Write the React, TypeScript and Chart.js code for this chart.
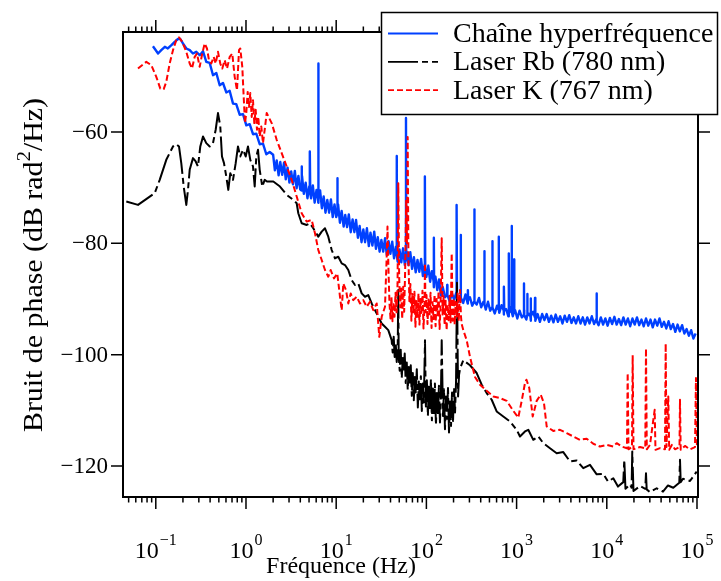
import React, { useEffect, useRef } from "react";
import { Chart, registerables } from "chart.js";

Chart.register(...registerables);

// ---------- data (frequency in Hz, phase noise in dB rad^2/Hz) ----------
const blueLow: number[][] = [
  [0.093, -44.6], [0.106, -45.9], [0.115, -45.3], [0.126, -44.7], [0.136, -45.0], [0.149, -44.4],
  [0.162, -43.8], [0.176, -43.3], [0.187, -43.3], [0.2, -44.1], [0.218, -45.0], [0.238, -45.3],
  [0.258, -45.9], [0.281, -45.6], [0.307, -46.2], [0.334, -45.5], [0.363, -47.4], [0.396, -47.6],
  [0.431, -49.8], [0.469, -49.4], [0.511, -51.6], [0.556, -51.2], [0.605, -52.9], [0.659, -52.6],
  [0.718, -54.9], [0.78, -55.0], [0.851, -56.9], [0.927, -56.8], [1.008, -58.8], [1.099, -58.6],
  [1.196, -60.4], [1.3, -60.3], [1.419, -62.2], [1.543, -62.1], [1.679, -64.0], [1.831, -63.6],
];

const blueMid: number[][] = [
  [2.0, -64.1], [2.09, -66.9], [2.19, -65.1], [2.3, -67.8], [2.4, -65.4], [2.52, -67.7],
  [2.64, -65.5], [2.76, -68.5], [2.89, -66.4], [3.03, -69.1], [3.17, -67.1], [3.32, -69.4],
  [3.48, -67.0], [3.64, -70.1], [3.81, -67.9], [3.99, -70.3], [4.18, -67.9], [4.38, -71.1],
  [4.59, -69.1], [4.8, -71.9], [5.03, -69.8], [5.27, -71.9], [5.51, -69.6], [5.77, -72.7],
  [6.05, -70.4], [6.33, -72.7], [6.63, -70.5], [6.94, -73.7], [7.27, -71.6], [7.61, -74.5],
  [7.97, -72.2], [8.35, -74.5], [8.74, -72.1], [9.15, -75.3], [9.58, -73.0], [10.0, -75.3],
  [10.5, -73.0], [11.0, -76.3], [11.5, -74.2], [12.1, -77.0], [12.6, -74.9], [13.2, -77.1],
  [13.8, -74.8], [14.5, -78.0], [15.2, -75.7], [15.9, -78.0], [16.6, -75.8], [17.4, -79.0],
  [18.2, -76.9], [19.1, -79.8], [20.0, -77.5], [20.9, -79.8], [21.9, -77.3], [23.0, -80.5],
  [24.0, -78.1], [25.2, -80.4], [26.4, -77.9], [27.6, -81.0], [28.9, -78.9], [30.3, -81.5],
  [31.7, -79.4], [33.2, -81.5], [34.8, -79.1], [36.4, -82.1], [38.1, -79.6], [39.9, -81.9],
  [41.8, -79.7], [43.8, -82.7], [45.9, -80.6], [48.0, -83.3], [50.3, -81.1], [52.7, -83.4],
  [55.1, -80.9], [57.7, -83.9], [60.5, -81.5], [63.3, -83.9], [66.3, -81.6], [69.4, -84.6],
  [72.7, -82.5], [76.1, -85.2], [79.7, -83.0], [83.5, -85.1], [87.4, -82.8], [91.5, -85.9],
  [95.8, -83.7], [100, -86.0], [105, -84.0], [110, -86.9], [115, -85.0], [121, -87.9],
  [126, -86.0], [132, -88.4], [138, -86.5], [145, -89.4], [152, -87.9],
];

const blueHigh: number[][] = [
  [161, -89.7], [171, -88.8], [181, -90.4], [192, -89.0], [203, -90.1], [215, -88.8],
  [228, -90.5], [241, -89.4], [256, -90.7], [271, -89.2], [287, -90.8], [304, -89.7],
  [322, -91.2], [341, -89.8], [361, -91.0], [383, -89.8], [405, -91.5], [429, -90.5],
  [455, -91.9], [482, -90.5], [510, -92.1], [541, -91.1], [573, -92.6], [607, -91.2],
  [643, -92.5], [681, -91.1], [721, -92.8], [764, -91.8], [809, -93.1], [857, -91.5],
  [908, -93.1], [962, -92.0], [1019, -93.5], [1079, -92.1], [1143, -93.3], [1211, -92.0],
  [1283, -93.7], [1359, -92.6], [1440, -93.9], [1525, -92.3], [1616, -93.9], [1711, -92.7],
  [1813, -94.1], [1920, -92.7], [2034, -93.8], [2155, -92.7], [2283, -94.1], [2418, -93.0],
  [2561, -94.2], [2713, -92.8], [2874, -94.1], [3045, -93.1], [3225, -94.4], [3417, -93.0],
  [3619, -94.1], [3834, -92.9], [4061, -94.3], [4302, -93.3], [4557, -94.4], [4828, -93.1],
  [5114, -94.4], [5417, -93.3], [5739, -94.6], [6079, -93.3], [6440, -94.4], [6822, -93.1],
  [7226, -94.5], [7655, -93.6], [8109, -94.7], [8590, -93.3], [9099, -94.6], [9639, -93.5],
  [10210, -94.8], [10820, -93.4], [11460, -94.5], [12140, -93.2], [12860, -94.6], [13620, -93.6],
  [14430, -94.7], [15280, -93.3], [16190, -94.6], [17150, -93.5], [18170, -94.9], [19240, -93.5],
  [20390, -94.6], [21600, -93.3], [22880, -94.7], [24230, -93.7], [25670, -94.9], [27190, -93.5],
  [28810, -94.8], [30510, -93.7], [32320, -95.1], [34240, -93.7], [36270, -94.8], [38420, -93.5],
  [40700, -95.0], [43120, -94.1], [45670, -95.3], [48380, -94.0], [51250, -95.4], [54290, -94.5],
  [57510, -95.9], [60920, -94.6], [64540, -95.8], [68360, -94.7], [72420, -96.2], [76710, -95.4],
  [81260, -96.6], [86080, -95.6], [91190, -97.1], [96600, -96.2],
];

const blueSpikes: number[][] = [
  [4.11, -70.5], [4.14, -66.2], [4.17, -70.5],
  [5.08, -71.0], [5.12, -63.5], [5.16, -71.0],
  [6.28, -72.0], [6.33, -47.7], [6.38, -72.0],
  [10.22, -74.8], [10.3, -68.3], [10.38, -74.8],
  [46.5, -82.0], [46.8, -64.3], [47.1, -82.0],
  [59.0, -82.8], [59.4, -57.5], [59.8, -82.8],
  [95.9, -85.0], [96.5, -68.0], [97.1, -85.0],
  [120.2, -86.8], [121, -79.0], [121.8, -86.8],
  [168.8, -89.3], [170, -87.5], [171.2, -89.3],
  [215.5, -89.7], [217, -73.1], [218.5, -89.7],
  [238.3, -89.8], [240, -78.5], [241.7, -89.8],
  [287.5, -90.2], [289, -88.4], [290.5, -90.2],
  [337.6, -90.5], [340, -73.9], [342.4, -90.5],
  [436, -91.0], [439, -81.4], [442, -91.0],
  [534, -91.5], [538, -79.6], [542, -91.5],
  [628.6, -91.9], [633, -78.8], [637.4, -91.9],
  [720, -92.1], [725, -87.8], [730, -92.1],
  [817, -92.3], [823, -81.8], [829, -92.3],
  [876, -92.4], [882, -76.9], [888, -92.4],
  [929, -92.5], [936, -82.9], [943, -92.5],
  [1200, -92.9], [1208, -87.2], [1216, -92.9],
  [1305, -93.0], [1314, -89.1], [1323, -93.0],
  [1423, -93.1], [1433, -89.9], [1443, -93.1],
  [1589, -93.2], [1600, -89.8], [1611, -93.2],
  [7675, -94.0], [7730, -89.0], [7785, -94.0],
];

const rbPoints: number[][] = [
  [0.0471, -72.5], [0.0635, -73.1], [0.0972, -71.0], [0.1105, -68.6], [0.1307, -65.0], [0.1551, -62.6],
  [0.1688, -62.2], [0.1808, -62.6], [0.1917, -65.6], [0.2039, -69.8], [0.2179, -73.1], [0.2275, -70.4],
  [0.2376, -66.8], [0.2585, -64.7], [0.277, -65.3], [0.2937, -66.2], [0.3114, -62.6], [0.3337, -60.8],
  [0.3629, -62.0], [0.396, -62.6], [0.4307, -62.0], [0.4613, -59.6], [0.4893, -56.6], [0.5188, -59.0],
  [0.5419, -64.4], [0.5703, -65.6], [0.6046, -68.0], [0.6366, -70.4], [0.6699, -67.4], [0.7176, -68.6],
  [0.7689, -65.6], [0.8151, -62.6], [0.8646, -64.4], [0.9264, -63.2], [0.9924, -64.4], [1.052, -62.6],
  [1.116, -65.0], [1.196, -66.2], [1.249, -69.8], [1.301, -64.4], [1.359, -63.2], [1.419, -66.8],
  [1.516, -69.8], [1.612, -68.6], [1.709, -68.9], [2.008, -68.9], [2.382, -69.8], [2.827, -71.3],
  [3.345, -72.2], [3.648, -72.8], [3.801, -74.6], [4.145, -76.4], [4.708, -76.7], [5.123, -76.4],
  [5.573, -77.3], [6.333, -78.8], [6.907, -77.9], [7.513, -77.3], [8.173, -78.8], [8.915, -81.2],
  [9.698, -82.7], [10.55, -82.4], [11.51, -83.6], [12.52, -83.9], [13.62, -84.8], [14.85, -86.6],
  [16.16, -87.5], [17.58, -87.2], [19.17, -89.0], [20.86, -89.6], [22.69, -89.3], [24.75, -90.8],
  [26.92, -92.0], [29.29, -93.2], [31.94, -94.4], [34.75, -95.0], [37.81, -95.6], [41.2, -97.4],
  [42.3, -99.6], [43.4, -96.8], [44.5, -100.4], [45.7, -98.0], [46.9, -101.3], [48.1, -98.6],
  [48.8, -88.4], [49.3, -100.2], [50.6, -102.9], [51.9, -99.1], [53.3, -104.2], [54.7, -100.6],
  [56.1, -103.0], [57.5, -99.8], [59.0, -105.1], [60.6, -101.4], [62.1, -106.3], [63.8, -102.2],
  [65.4, -105.0], [67.1, -101.9], [68.9, -107.4], [70.7, -103.3], [72.5, -108.2], [74.4, -104.0],
  [76.3, -106.8], [78.3, -102.6], [80.4, -109.5], [82.4, -104.8], [84.6, -108.0], [86.8, -103.9],
  [89.0, -110.1], [91.3, -105.2], [93.7, -108.6], [96.5, -97.4], [98.7, -109.3], [101.2, -104.6],
  [103.9, -111.0], [106.6, -105.3], [109.3, -109.6], [112.2, -104.4], [115.1, -111.8], [118.1, -106.1],
  [121.2, -110.5], [124.3, -105.2], [127.6, -112.6], [130.9, -106.9], [134.3, -110.9], [137.8, -105.6],
  [141.4, -112.2], [145.0, -107.0], [147.8, -97.4], [152.7, -111.0], [156.7, -106.2], [160.7, -113.4],
  [164.9, -107.5], [169.2, -111.5], [173.6, -106.0], [178.1, -114.0], [182.8, -108.4], [187.5, -112.8],
  [192.4, -106.8], [197.4, -111.9], [202.6, -105.9], [207.8, -110.4], [213.2, -104.8], [218.4, -87.1],
  [224.5, -107.5], [230.3, -103.6], [236.3, -102.5], [256.5, -101.0], [304.3, -101.9], [361.1, -103.3],
  [410.2, -105.4], [466.0, -106.9], [529.6, -108.1], [601.6, -110.2], [712.0, -111.1], [845.1, -112.0],
  [1002, -113.5], [1090, -114.7], [1239, -113.8], [1348, -113.5], [1531, -115.3], [1740, -114.7],
  [1977, -115.9], [2346, -116.8], [2782, -117.7], [3293, -117.5], [3908, -119.2], [4637, -119.0],
  [5488, -120.4], [6510, -119.8], [7725, -121.5], [9143, -121.4], [10310, -122.8], [11800, -122.2],
  [13300, -123.7], [15230, -122.9], [15630, -118.9], [16110, -124.1], [18080, -123.3], [18840, -123.9],
  [19160, -117.4], [19770, -124.5], [23330, -123.6], [26710, -124.1], [27200, -121.3], [27680, -124.2],
  [30120, -124.7], [35730, -124.0], [41970, -124.6], [47690, -123.5], [54600, -123.9], [63650, -123.0],
  [64790, -118.9], [65960, -122.9], [69930, -122.3], [83600, -122.7], [99200, -121.0],
];

const kPoints: number[][] = [
  [0.0635, -48.6], [0.0785, -47.4], [0.0892, -48.0], [0.1013, -50.1], [0.1122, -52.2], [0.1224, -52.3],
  [0.1307, -51.0], [0.1426, -47.7], [0.1551, -45.3], [0.1688, -43.5], [0.1808, -43.0], [0.1966, -43.8],
  [0.2179, -45.6], [0.2376, -47.7], [0.252, -48.6], [0.27, -46.5], [0.2862, -45.9], [0.3066, -48.3],
  [0.3277, -45.9], [0.3483, -44.1], [0.3694, -45.0], [0.3888, -47.1], [0.4124, -47.7], [0.4384, -46.5],
  [0.4613, -47.7], [0.4893, -45.6], [0.5188, -47.7], [0.546, -48.6], [0.5805, -47.1], [0.616, -48.6],
  [0.66, -46.5], [0.7047, -45.9], [0.7492, -50.1], [0.795, -52.5], [0.8365, -45.3], [0.8646, -45.0],
  [0.9099, -48.3], [0.943, -53.7], [0.9748, -58.4], [1.0077, -56.6], [1.0443, -52.8], [1.0797, -55.5],
  [1.116, -53.0], [1.157, -57.3], [1.196, -54.3], [1.236, -58.4], [1.281, -56.0], [1.324, -59.6],
  [1.369, -57.3], [1.419, -60.8], [1.477, -59.0], [1.543, -62.0], [1.612, -59.6], [1.696, -56.6],
  [1.927, -58.4], [2.189, -61.4], [2.488, -63.8], [2.827, -66.2], [3.212, -68.6], [3.648, -71.6],
  [4.145, -74.6], [4.708, -76.1], [5.35, -75.8], [5.82, -78.2], [6.333, -81.2], [6.907, -83.0],
  [7.513, -84.8], [8.173, -86.0], [8.69, -84.8], [9.454, -86.3], [10.28, -85.4], [11.02, -89.6],
  [11.51, -92.0], [11.99, -87.2], [12.84, -88.4], [13.62, -90.8], [14.48, -89.0], [15.47, -90.2],
  [16.87, -89.6], [18.36, -90.8], [19.97, -90.2], [21.78, -91.4], [23.7, -90.5], [25.78, -92.0],
  [28.12, -90.8], [30.05, -96.8], [31.94, -93.2], [34.75, -91.4], [36.29, -82.4], [37.04, -77.0],
  [38.0, -84.8], [38.98, -90.8], [40.0, -93.5], [41.0, -89.7], [42.1, -94.0], [43.2, -90.6],
  [44.3, -93.2], [45.5, -88.9], [46.7, -92.4], [47.9, -87.2], [48.8, -69.2], [49.9, -86.0],
  [51.2, -91.5], [52.5, -88.1], [53.9, -93.6], [55.3, -87.8], [56.7, -92.3], [58.2, -84.5],
  [59.7, -72.2], [60.9, -80.0], [62.03, -60.9], [63.2, -82.5], [64.8, -90.4], [66.5, -87.3],
  [68.2, -93.9], [70.0, -89.1], [71.8, -92.6], [73.7, -88.7], [75.6, -95.0], [77.6, -90.2],
  [79.6, -93.4], [81.7, -89.0], [83.8, -94.6], [86.0, -90.0], [88.2, -92.8], [90.5, -88.5],
  [92.9, -95.3], [95.3, -91.0], [96.48, -83.6], [97.8, -92.4], [100.3, -89.3], [102.9, -94.5],
  [105.6, -90.1], [108.4, -93.0], [111.2, -88.9], [114.1, -95.2], [117.0, -90.6], [120.1, -93.6],
  [123.2, -89.2], [126.4, -94.9], [129.7, -90.0], [133.1, -92.9], [136.5, -88.6], [140.1, -95.4],
  [143.7, -91.2], [147.8, -79.1], [151.3, -92.8], [155.2, -89.5], [159.3, -94.7], [163.4, -90.3],
  [167.6, -95.6], [172.0, -91.0], [176.5, -93.8], [181.1, -89.4], [185.8, -94.2], [190.8, -81.8],
  [195.6, -93.9], [200.7, -89.9], [205.9, -94.6], [211.3, -90.5], [216.8, -93.3], [222.4, -89.0],
  [228.2, -94.0], [235.8, -88.4], [242.0, -93.2], [246.3, -94.5], [256.5, -95.6], [279.7, -97.4],
  [304.3, -100.4], [345.7, -104.0], [392.8, -105.4], [466.0, -106.5], [551.5, -107.5], [654.6, -107.8],
  [776.7, -108.3], [919.0, -110.1], [1044, -111.3], [1139, -108.3], [1239, -105.1], [1287, -104.5],
  [1382, -106.0], [1508, -111.1], [1670, -108.3], [1850, -107.2], [2012, -108.7], [2156, -112.9],
  [2551, -113.7], [3027, -113.5], [3592, -114.1], [4251, -114.7], [5043, -115.3], [5984, -115.1],
  [7084, -116.0], [8403, -116.5], [9970, -116.2], [11800, -116.5], [12870, -115.9], [14620, -116.5],
  [16740, -116.8], [17040, -103.3], [17390, -117.0], [19020, -116.6], [19360, -100.1], [19770, -117.0],
  [23330, -116.6], [26710, -116.8], [27200, -98.9], [27760, -117.0], [30120, -116.2], [33950, -109.9],
  [34650, -117.1], [38880, -116.8], [44170, -117.0], [44970, -98.0], [45890, -116.6], [48050, -107.5],
  [49170, -117.1], [52810, -116.2], [57020, -117.0], [63950, -116.6], [64790, -108.1], [65960, -117.1],
  [73600, -116.4], [83600, -117.0], [95000, -116.6], [97430, -104.2], [99960, -116.8],
];

const seriesNames = ["Chaîne hyperfréquence", "Laser Rb (780 nm)", "Laser K (767 nm)"];
const yTickValues = [-60, -80, -100, -120];
const xDecadeExponents = [-1, 0, 1, 2, 3, 4, 5];
const xTitle = "Fréquence (Hz)";
const yTitleParts = ["Bruit de phase (dB rad", "2", "/Hz)"];

const X_MIN = 0.0433;
const X_MAX = 1.026e5;
const Y_MIN = -125.57;
const Y_MAX = -42.04;

const BLUE = "#0040ff";
const RED = "#ff0000";
const BLACK = "#000000";
const RB_DASH = [30, 4, 6, 4];
const K_DASH = [6, 3];
const SERIF = '"Liberation Serif", "Times New Roman", serif';

const toXY = (arr: number[][]) => arr.map(([x, y]) => ({ x, y }));

const framePlugin = {
  id: "frameAndLegend",
  afterDraw(chart: any) {
    const { ctx, chartArea: a, scales } = chart;
    const xs = scales.x;
    const ys = scales.y;
    ctx.save();
    ctx.setLineDash([]);
    ctx.strokeStyle = "#000";
    ctx.fillStyle = "#000";

    // ticks
    ctx.lineWidth = 1.5;
    ctx.beginPath();
    for (let d = -2; d <= 5; d++) {
      for (let m = 1; m <= 9; m++) {
        const v = m * Math.pow(10, d);
        if (v < X_MIN || v > X_MAX) continue;
        const px = xs.getPixelForValue(v);
        const len = m === 1 ? 12 : 5.5;
        ctx.moveTo(px, a.bottom);
        ctx.lineTo(px, a.bottom + len);
        ctx.moveTo(px, a.top);
        ctx.lineTo(px, a.top - len);
      }
    }
    for (const t of yTickValues) {
      const py = ys.getPixelForValue(t);
      ctx.moveTo(a.left - 12, py);
      ctx.lineTo(a.left, py);
      ctx.moveTo(a.right, py);
      ctx.lineTo(a.right + 12, py);
    }
    ctx.stroke();

    // frame
    ctx.lineWidth = 2;
    ctx.strokeRect(a.left, a.top, a.right - a.left, a.bottom - a.top);

    // y tick labels
    ctx.font = `23px ${SERIF}`;
    ctx.textAlign = "right";
    ctx.textBaseline = "middle";
    for (const t of yTickValues) {
      const py = ys.getPixelForValue(t);
      ctx.fillText(String(t).replace("-", "\u2212"), a.left - 15, py + 1);
    }

    // x tick labels 10^n
    ctx.textAlign = "left";
    ctx.textBaseline = "alphabetic";
    for (const e of xDecadeExponents) {
      const px = xs.getPixelForValue(Math.pow(10, e));
      const base = "10";
      const sup = String(e).replace("-", "\u2212");
      ctx.font = `24px ${SERIF}`;
      const wb = ctx.measureText(base).width;
      ctx.font = `16px ${SERIF}`;
      const ws = ctx.measureText(sup).width;
      const x0 = px - (wb + ws + 1) / 2;
      ctx.font = `24px ${SERIF}`;
      ctx.fillText(base, x0, 558);
      ctx.font = `16px ${SERIF}`;
      ctx.fillText(sup, x0 + wb + 1, 545);
    }

    // x title
    ctx.font = `24px ${SERIF}`;
    ctx.textAlign = "center";
    ctx.fillText(xTitle, 341, 573);

    // y title (rotated, stretched to the original length)
    ctx.save();
    ctx.translate(42, 265);
    ctx.rotate(-Math.PI / 2);
    const fBig = `27px ${SERIF}`;
    const fSmall = `19px ${SERIF}`;
    ctx.textAlign = "left";
    ctx.font = fBig;
    const w1 = ctx.measureText(yTitleParts[0]).width;
    const w3 = ctx.measureText(yTitleParts[2]).width;
    ctx.font = fSmall;
    const w2 = ctx.measureText(yTitleParts[1]).width;
    const total = w1 + w2 + w3;
    ctx.scale(334 / total, 1);
    let sx = -total / 2;
    ctx.font = fBig;
    ctx.fillText(yTitleParts[0], sx, 0);
    sx += w1;
    ctx.font = fSmall;
    ctx.fillText(yTitleParts[1], sx, -12);
    sx += w2;
    ctx.font = fBig;
    ctx.fillText(yTitleParts[2], sx, 0);
    ctx.restore();

    // legend
    ctx.fillStyle = "#fff";
    ctx.fillRect(381, 12, 337, 103);
    ctx.strokeStyle = "#000";
    ctx.lineWidth = 1.5;
    ctx.strokeRect(381.5, 12.5, 336, 102);
    const colors = [BLUE, BLACK, RED];
    const dashes = [[], RB_DASH, K_DASH];
    ctx.font = `28px ${SERIF}`;
    ctx.textAlign = "left";
    ctx.textBaseline = "alphabetic";
    seriesNames.forEach((name, i) => {
      const ly = 33.5 + i * 28.3;
      ctx.beginPath();
      ctx.setLineDash(dashes[i]);
      ctx.strokeStyle = colors[i];
      ctx.lineWidth = 1.8;
      ctx.moveTo(388, ly);
      ctx.lineTo(438, ly);
      ctx.stroke();
      ctx.setLineDash([]);
      ctx.fillStyle = "#000";
      ctx.fillText(name, 453, ly + 8.5);
    });

    ctx.restore();
  },
};

export default function App() {
  const canvasRef = useRef<HTMLCanvasElement | null>(null);

  useEffect(() => {
    const canvas = canvasRef.current;
    if (!canvas) return;
    const blueAll = [...blueLow, ...blueMid, ...blueHigh, ...blueSpikes].sort((p, q) => p[0] - q[0]);
    const chart = new Chart(canvas, {
      type: "line",
      data: {
        datasets: [
          {
            label: seriesNames[0],
            data: toXY(blueAll),
            borderColor: BLUE,
            borderWidth: 2.4,
            pointRadius: 0,
            borderJoinStyle: "round",
            order: 3,
          },
          {
            label: seriesNames[1],
            data: toXY(rbPoints),
            borderColor: BLACK,
            borderWidth: 2,
            pointRadius: 0,
            borderDash: RB_DASH,
            borderJoinStyle: "round",
            order: 2,
          },
          {
            label: seriesNames[2],
            data: toXY(kPoints),
            borderColor: RED,
            borderWidth: 2,
            pointRadius: 0,
            borderDash: K_DASH,
            borderJoinStyle: "round",
            order: 1,
          },
        ],
      } as any,
      options: {
        responsive: false,
        maintainAspectRatio: false,
        animation: false,
        devicePixelRatio: 1,
        layout: { padding: { left: 123, right: 23, top: 32, bottom: 84 } },
        elements: { line: { tension: 0 }, point: { radius: 0 } },
        scales: {
          x: { type: "logarithmic", min: X_MIN, max: X_MAX, display: false },
          y: { type: "linear", min: Y_MIN, max: Y_MAX, display: false },
        },
        plugins: { legend: { display: false }, tooltip: { enabled: false } },
        events: [],
      } as any,
      plugins: [framePlugin],
    });
    return () => chart.destroy();
  }, []);

  return (
    <div style={{ position: "fixed", left: 0, top: 0, width: 721, height: 581, background: "#fff" }}>
      <canvas ref={canvasRef} width={721} height={581} style={{ width: 721, height: 581, display: "block" }} />
    </div>
  );
}
